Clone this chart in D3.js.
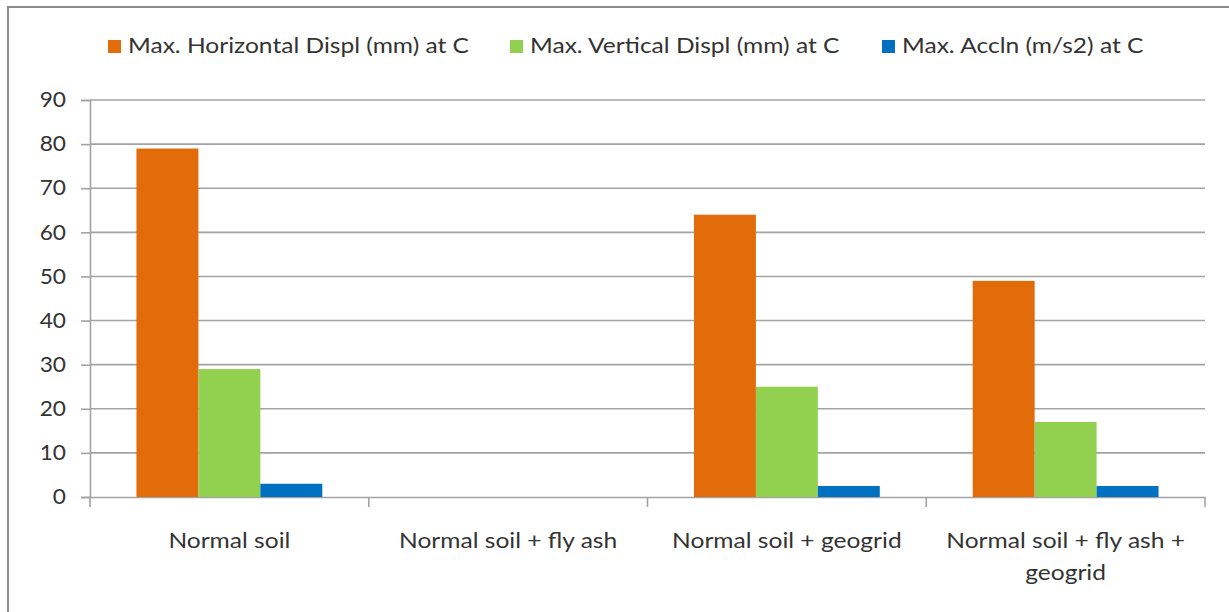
<!DOCTYPE html>
<html>
<head>
<meta charset="utf-8">
<script src="https://cdn.jsdelivr.net/npm/d3@7"></script>
<style>
  html, body { margin: 0; padding: 0; background: #fff; }
  svg { display: block; }
  text { font-family: Lato, "Open Sans", sans-serif; fill: #333; }
</style>
</head>
<body>
<svg id="chart" width="1229" height="612"></svg>
<script>
// Soil treatment cases
const categories = ["Normal soil", "Normal soil + fly ash", "Normal soil + geogrid", "Normal soil + fly ash + geogrid"];
const seriesNames = ["Max. Horizontal Displ (mm) at C", "Max. Vertical Displ (mm) at C", "Max. Accln (m/s2) at C"];
const horizontalDispl = [79, 0, 64, 49];
const verticalDispl = [29, 0, 25, 17];
const acceleration = [3, 0, 2.5, 2.5];
const yTicks = [0, 10, 20, 30, 40, 50, 60, 70, 80, 90];
const colors = ["#E36C0A", "#92D050", "#0070C0"];

const seriesValues = [horizontalDispl, verticalDispl, acceleration];

const svg = d3.select("#chart");
const margin = { left: 90, right: 1205, top: 100, bottom: 497 };
const fontSize = 21;
const stretch = 1.17;   // wide-set lettering

// chart frame (top and left edges)
svg.append("path")
  .attr("d", "M8,612 L8,7 L1229,7")
  .attr("fill", "none")
  .attr("stroke", "#8c8c8c")
  .attr("stroke-width", 2);

const x = d3.scaleBand().domain(categories).range([margin.left, margin.right]).paddingInner(0).paddingOuter(0);
const y = d3.scaleLinear().domain([0, 90]).range([margin.bottom, margin.top]);

// horizontal gridlines
svg.append("g").selectAll("line").data(yTicks.filter(t => t > 0)).join("line")
  .attr("x1", margin.left).attr("x2", margin.right)
  .attr("y1", d => y(d)).attr("y2", d => y(d))
  .attr("stroke", "#a3a3a3").attr("stroke-width", 1.6);

// y axis
const yAxis = svg.append("g").attr("transform", `translate(${margin.left},0)`)
  .call(d3.axisLeft(y).tickValues(yTicks).tickSize(9).tickPadding(15).tickFormat(d3.format("d")));
yAxis.select(".domain").attr("stroke", "#a3a3a3").attr("stroke-width", 1.6);
yAxis.selectAll(".tick line").attr("stroke", "#a3a3a3").attr("stroke-width", 1.6);
yAxis.selectAll(".tick text")
  .style("font-size", fontSize + "px").attr("fill", "#333")
  .attr("x", 0)
  .attr("transform", "translate(-24,0) scale(1.08,1)");

// x axis
const xAxis = svg.append("g").attr("transform", `translate(0,${margin.bottom})`)
  .call(d3.axisBottom(x).tickSize(0).tickFormat(""));
xAxis.select(".domain").attr("stroke", "#a3a3a3").attr("stroke-width", 1.6);
const boundaries = categories.map(c => x(c)).concat([margin.right]);
svg.append("g").selectAll("line").data(boundaries).join("line")
  .attr("x1", d => d).attr("x2", d => d)
  .attr("y1", margin.bottom).attr("y2", margin.bottom + 10)
  .attr("stroke", "#a3a3a3").attr("stroke-width", 1.6);

// bars: gap width 150% of a bar between groups
const xInner = d3.scaleBand().domain(d3.range(seriesNames.length))
  .range([0, x.bandwidth()]).paddingInner(0).paddingOuter(0.75);

const groups = svg.append("g").selectAll("g").data(categories).join("g")
  .attr("transform", c => `translate(${x(c)},0)`);
groups.selectAll("rect")
  .data((c, i) => seriesValues.map((vals, s) => ({ s, v: vals[i] })))
  .join("rect")
  .attr("x", d => xInner(d.s))
  .attr("width", xInner.bandwidth())
  .attr("y", d => y(d.v))
  .attr("height", d => y(0) - y(d.v))
  .attr("fill", d => colors[d.s]);

// category labels, wrapped to the band width
const labelWidth = (x.bandwidth() - 25) / stretch;
svg.append("g").selectAll("g").data(categories).join("g")
  .attr("transform", c => `translate(${x(c) + x.bandwidth() / 2},548) scale(${stretch},1)`)
  .append("text")
  .attr("text-anchor", "middle")
  .style("font-size", fontSize + "px")
  .each(function (c) {
    const t = d3.select(this);
    const words = c.split(" ");
    let line = [];
    let tspan = t.append("tspan").attr("x", 0).attr("dy", 0);
    for (const w of words) {
      line.push(w);
      tspan.text(line.join(" "));
      if (tspan.node().getComputedTextLength() > labelWidth && line.length > 1) {
        line.pop();
        tspan.text(line.join(" "));
        line = [w];
        tspan = t.append("tspan").attr("x", 0).attr("dy", 32).text(w);
      }
    }
  });

// legend
const legendX = [108, 510, 882];
const legend = svg.append("g").selectAll("g").data(seriesNames).join("g")
  .attr("transform", (d, i) => `translate(${legendX[i]},40)`);
legend.append("rect").attr("width", 13).attr("height", 13).attr("fill", (d, i) => colors[i]);
legend.append("g").attr("transform", `translate(20,13) scale(${stretch},1)`)
  .append("text").style("font-size", fontSize + "px").text(d => d);
</script>
</body>
</html>
